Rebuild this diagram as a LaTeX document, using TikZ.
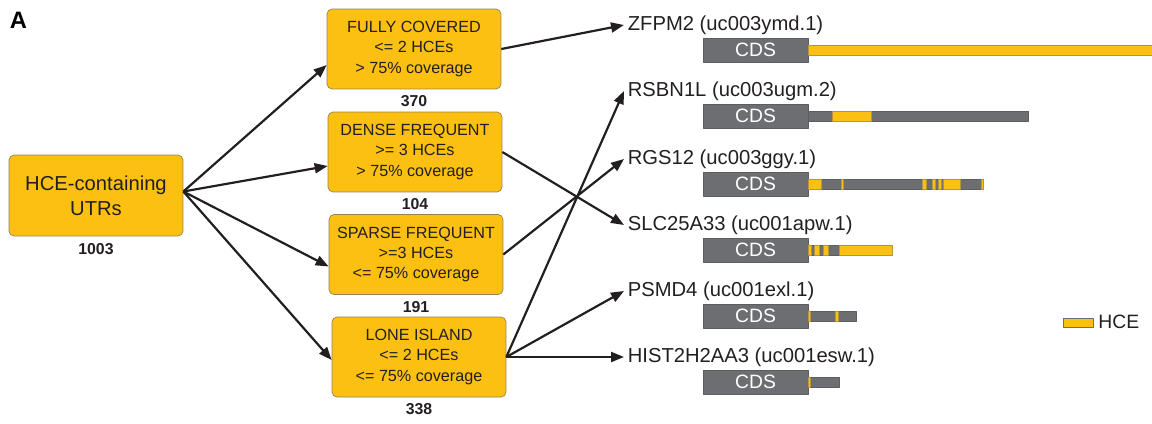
\documentclass[tikz,border=0pt]{standalone}
\usepackage{fontspec}
\setmainfont{Liberation Sans}
\usetikzlibrary{arrows.meta,positioning,calc}
\definecolor{hceyel}{RGB}{252,192,18}
\definecolor{boxrim}{RGB}{150,130,80}
\definecolor{cdsgray}{RGB}{109,110,113}
\definecolor{ink}{RGB}{35,31,32}
\tikzset{
  classbox/.style={draw=boxrim,fill=hceyel,rounded corners=1mm,line width=0.4pt,
    minimum width=3.48cm,minimum height=1.6cm,align=center,text=ink,
    font=\fontsize{9.2}{11.6}\selectfont},
  count/.style={inner sep=0pt,text=ink,font=\fontsize{9}{10}\selectfont\bfseries},
  gene/.style={anchor=west,inner sep=2pt,text=ink,font=\fontsize{11.5}{13}\selectfont},
  cds/.style={fill=cdsgray,draw=cdsgray!85!black,line width=0.3pt,inner sep=0pt,
    minimum width=2.1cm,minimum height=0.48cm,text=white,font=\fontsize{11}{12}\selectfont},
  utr/.style={fill=cdsgray,draw=cdsgray!85!black,line width=0.3pt},
  hce/.style={fill=hceyel,draw=boxrim!70!hceyel,line width=0.3pt},
  flow/.style={-{Triangle[length=2.6mm,width=2mm]},line width=1.25pt,draw=ink},
}
\begin{document}
\begin{tikzpicture}[x=0.02cm,y=-0.02cm,line join=round]
\useasboundingbox (0,0) rectangle (1152,423);
\node[font=\fontsize{13.5}{14}\selectfont\bfseries] (panel) at (18.5,20.5) {A};
% source set and its four classes
\node[classbox,font=\fontsize{11.5}{14.2}\selectfont,minimum height=1.62cm] (root) at (96,195.5) {HCE-containing\\UTRs};
\node[classbox] (fc) at (414,49) {FULLY COVERED\\<= 2 HCEs\\> 75\% coverage};
\node[classbox] (df) at (415,152) {DENSE FREQUENT\\>= 3 HCEs\\> 75\% coverage};
\node[classbox] (sf) at (416,254.5) {SPARSE FREQUENT\\>=3 HCEs\\<= 75\% coverage};
\node[classbox] (li) at (419,357) {LONE ISLAND\\<= 2 HCEs\\<= 75\% coverage};
\node[count,below=4pt of root] (rootn) {1003};
\foreach \b/\n in {fc/370,df/104,sf/191,li/338}{\node[count,below=3.5pt of \b] (\b n) {\n};}
% transcripts: name, CDS block and 3' UTR bar
\foreach \g/\txt/\y/\e in {zfpm/{ZFPM2 (uc003ymd.1)}/25/1152,rsbn/{RSBN1L (uc003ugm.2)}/91/1028,
  rgs/{RGS12 (uc003ggy.1)}/159/983,slc/{SLC25A33 (uc001apw.1)}/225/892,
  psmd/{PSMD4 (uc001exl.1)}/291/856,hist/{HIST2H2AA3 (uc001esw.1)}/357/839}{
  \node[gene] (\g) at (624,\y) {\txt};
  \draw[utr] (808,\y+20) rectangle (\e,\y+30);
  \node[cds] (\g-cds) at (755.5,\y+25) {CDS};
}
% HCE stretches along the UTRs
\foreach \a/\b/\y in {808/1152/25,832/871/91,808/821/159,841/843/159,922/926/159,932/935/159,
  938/941/159,943/960/159,981/983/159,808/811/225,814/819/225,823/828/225,839/892/225,
  808/810/291,835/838/291,808/810/357}{
  \draw[hce] (\a,\y+20) rectangle (\b,\y+30);
}
% key
\draw[hce,draw=cdsgray] (1063,318) rectangle (1093,327);
\node[gene,inner sep=0pt,font=\fontsize{11}{12}\selectfont] (key) at (1098,322) {HCE};
% arrows
\foreach \b/\d in {fc/16,df/14,sf/12,li/3}{\draw[flow] ($(root.east)+(0,-4)$) -- ($(\b.west)+(0,\d)$);}
\foreach \a/\b in {fc/zfpm,df/slc,sf/rgs,li/rsbn,li/psmd,li/hist}{\draw[flow] (\a.east) -- (\b.west);}
\end{tikzpicture}
\end{document}
